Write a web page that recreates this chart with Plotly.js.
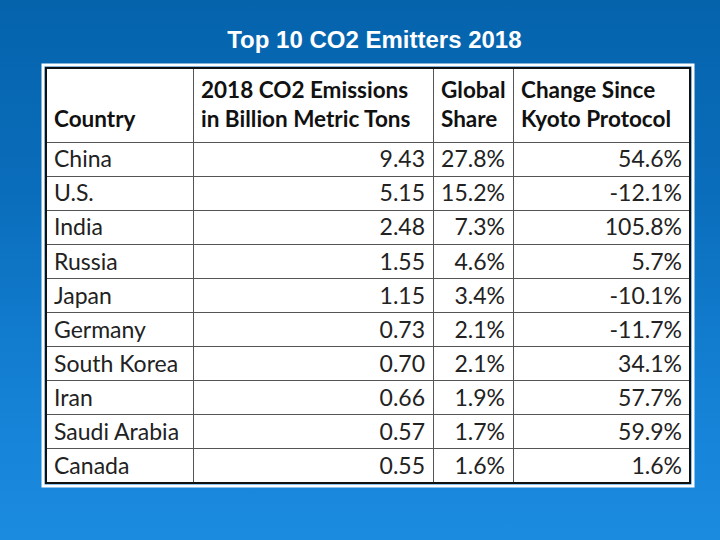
<!DOCTYPE html>
<html>
<head>
<meta charset="utf-8">
<script src="https://cdn.plot.ly/plotly-3.0.1.min.js"></script>
<style>
html,body{margin:0;padding:0;width:720px;height:540px;overflow:hidden;
background:linear-gradient(180deg,#0563ac 0%,#0a6dbb 35%,#1582d6 75%,#1b8be0 100%);}
#chart{width:720px;height:540px;}
</style>
</head>
<body>
<div id="chart"></div>
<script>
const headers = ["&nbsp;<br>Country", "2018 CO2 Emissions<br>in Billion Metric Tons", "Global<br>Share", "Change Since<br>Kyoto Protocol"];
const countries = ["China", "U.S.", "India", "Russia", "Japan", "Germany", "South\u00a0Korea", "Iran", "Saudi\u00a0Arabia", "Canada"];
const emissions = [9.43, 5.15, 2.48, 1.55, 1.15, 0.73, 0.70, 0.66, 0.57, 0.55];
const globalShare = [27.8, 15.2, 7.3, 4.6, 3.4, 2.1, 2.1, 1.9, 1.7, 1.6];
const changeSinceKyoto = [54.6, -12.1, 105.8, 5.7, -10.1, -11.7, 34.1, 57.7, 59.9, 1.6];

const W = 720, H = 540;
const x0 = 46, x1 = 690, y0 = 68, y1 = 483;
const font = "Lato, 'Open Sans', sans-serif";

const trace = {
  type: "table",
  domain: {x: [x0 / W, x1 / W], y: [1 - y1 / H, 1 - y0 / H]},
  columnwidth: [147, 240, 80, 177],
  header: {
    values: headers,
    align: ["left", "left", "left", "left"],
    height: 74,
    fill: {color: "white"},
    line: {color: "#555", width: 1},
    font: {family: font, size: 22.5, color: "#111", weight: "bold"}
  },
  cells: {
    values: [countries, emissions, globalShare, changeSinceKyoto],
    format: [null, ".2f", ".1f", ".1f"],
    suffix: [null, null, "%", "%"],
    align: ["left", "right", "right", "right"],
    height: 34.1,
    fill: {color: "white"},
    line: {color: "#555", width: 1},
    font: {family: font, size: 23, color: "#222"}
  }
};

const layout = {
  width: W, height: H,
  margin: {l: 0, r: 0, t: 0, b: 0},
  paper_bgcolor: "rgba(0,0,0,0)",
  plot_bgcolor: "rgba(0,0,0,0)",
  showlegend: false,
  title: {
    text: "<b>Top 10 CO2 Emitters 2018</b>",
    x: 0.52, xanchor: "center",
    y: 1 - 40 / H, yanchor: "middle",
    font: {family: "'Liberation Sans', Arial, sans-serif", size: 24, color: "white"}
  },
  shapes: [
    {type: "rect", xref: "paper", yref: "paper",
     x0: 43 / W, x1: 693 / W, y0: 1 - 486 / H, y1: 1 - 65 / H,
     line: {color: "white", width: 3}, layer: "below"},
    {type: "rect", xref: "paper", yref: "paper",
     x0: x0 / W, x1: x1 / W, y0: 1 - y1 / H, y1: 1 - y0 / H,
     line: {color: "#111", width: 2}, layer: "above"}
  ]
};

Plotly.newPlot("chart", [trace], layout, {displayModeBar: false, staticPlot: true});
</script>
</body>
</html>
